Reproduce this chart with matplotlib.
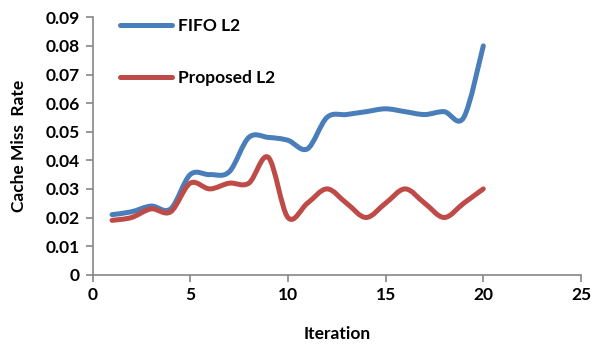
import matplotlib.pyplot as plt
from matplotlib.path import Path
from matplotlib.patches import PathPatch
from matplotlib.lines import Line2D

plt.rcParams['font.family'] = ['Lato', 'DejaVu Sans']
plt.rcParams['font.weight'] = 'bold'

iterations = list(range(1, 21))
fifo_l2 = [0.021, 0.022, 0.024, 0.023, 0.035, 0.035, 0.036, 0.048, 0.048, 0.047,
           0.044, 0.055, 0.056, 0.057, 0.058, 0.057, 0.056, 0.057, 0.055, 0.080]
proposed_l2 = [0.019, 0.020, 0.023, 0.022, 0.032, 0.030, 0.032, 0.032, 0.041, 0.020,
               0.025, 0.030, 0.025, 0.020, 0.025, 0.030, 0.025, 0.020, 0.025, 0.030]

blue = '#4A7EBB'
red = '#BE4B48'
grey = '#868686'
fs = 12.5


def smooth_path(xs, ys):
    # Excel style smoothed line: cubic bezier segments (catmull-rom tangents)
    pts = list(zip(xs, ys))
    verts = [pts[0]]
    codes = [Path.MOVETO]
    n = len(pts)
    for i in range(n - 1):
        p0 = pts[i - 1] if i > 0 else pts[i]
        p1 = pts[i]
        p2 = pts[i + 1]
        p3 = pts[i + 2] if i + 2 < n else pts[i + 1]
        c1 = (p1[0] + (p2[0] - p0[0]) / 6, p1[1] + (p2[1] - p0[1]) / 6)
        c2 = (p2[0] - (p3[0] - p1[0]) / 6, p2[1] - (p3[1] - p1[1]) / 6)
        verts += [c1, c2, p2]
        codes += [Path.CURVE4] * 3
    return Path(verts, codes)


fig = plt.figure(figsize=(5.92, 3.45), dpi=100)
ax = fig.add_axes([92.5 / 592, 1 - 274.7 / 345, (581 - 92.5) / 592, (274.7 - 17.3) / 345])

for ys, col in [(fifo_l2, blue), (proposed_l2, red)]:
    patch = PathPatch(smooth_path(iterations, ys), facecolor='none', edgecolor=col,
                      lw=3.6, capstyle='round', joinstyle='round')
    ax.add_patch(patch)

ax.set_xlim(0, 25)
ax.set_ylim(0, 0.09)
ax.set_xticks([0, 5, 10, 15, 20, 25])
ax.set_yticks([0, 0.01, 0.02, 0.03, 0.04, 0.05, 0.06, 0.07, 0.08, 0.09])
ax.set_yticklabels(['0', '0.01', '0.02', '0.03', '0.04', '0.05', '0.06', '0.07', '0.08', '0.09'])

for s in ['top', 'right']:
    ax.spines[s].set_visible(False)
for s in ['left', 'bottom']:
    ax.spines[s].set_color(grey)
    ax.spines[s].set_linewidth(1.2)
ax.tick_params(direction='out', length=5, width=1.2, color=grey, labelsize=fs, pad=4)
for lab in ax.get_xticklabels() + ax.get_yticklabels():
    lab.set_fontweight('bold')

ax.set_xlabel('Iteration', fontsize=fs, fontweight='bold')
ax.set_ylabel('Cache Miss  Rate', fontsize=fs, fontweight='bold')
ax.xaxis.set_label_coords(0.5, -0.2)
ax.yaxis.set_label_coords(-0.135, 0.5)

handles = [Line2D([], [], color=blue, lw=3.6, solid_capstyle='round'),
           Line2D([], [], color=red, lw=3.6, solid_capstyle='round')]
fig.legend(handles, ['FIFO L2', 'Proposed L2'], loc='upper left',
           bbox_to_anchor=(120 / 592, 1 - 18 / 345), frameon=False,
           prop={'size': fs, 'weight': 'bold'}, handlelength=3.0,
           handletextpad=0.35, labelspacing=2.05, borderpad=0, borderaxespad=0)

fig.savefig('out.png', dpi=100)
